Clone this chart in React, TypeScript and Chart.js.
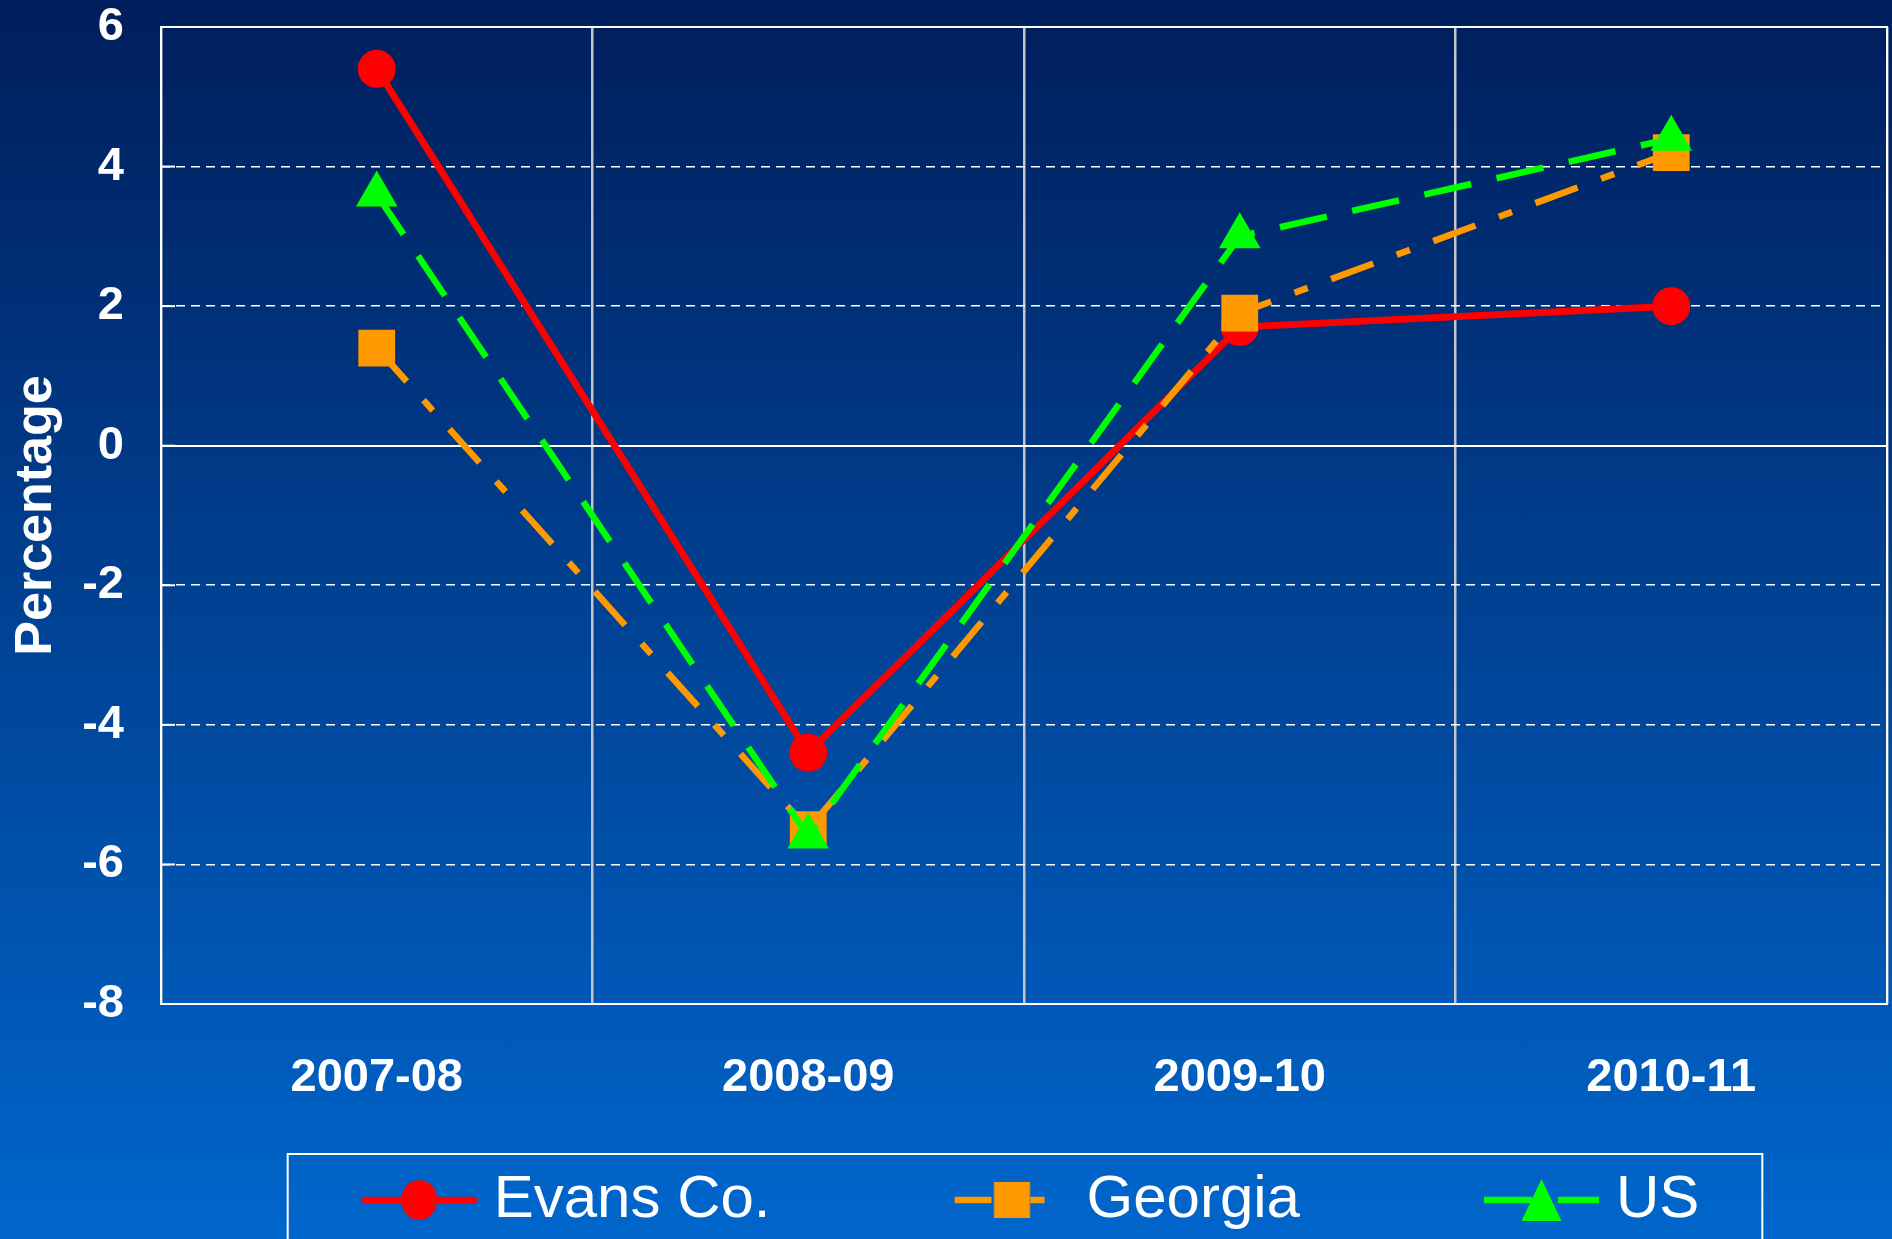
import React, { useEffect, useRef } from 'react';
import { Chart, registerables } from 'chart.js';

Chart.register(...registerables);

const categories = ['2007-08', '2008-09', '2009-10', '2010-11'];
const evansValues = [5.4, -4.4, 1.7, 2.0];
const georgiaValues = [1.4, -5.5, 1.9, 4.2];
const usValues = [3.6, -5.6, 3.0, 4.4];
const seriesNames = ['Evans Co.', 'Georgia', 'US'];
const seriesColors = ['#ff0000', '#ff9900', '#00ff00'];
const yMin = -8;
const yMax = 6;
const yStep = 2;

const PAGE_W = 1892;
const PAGE_H = 1239;
const CANVAS_H = 1240;

const LEGEND_FONT = 60;
const LEGEND_PAD = 10;
const LEGEND_SAMPLE = 115;
const LEGEND_BOX_W = 276;
const LEGEND_IMG_W = LEGEND_BOX_W + 26;

function makeSample(kind: 'circle' | 'rect' | 'triangle', color: string, dash: number[]) {
  const c = document.createElement('canvas');
  c.width = LEGEND_IMG_W;
  c.height = 50;
  const g = c.getContext('2d')!;
  const x0 = LEGEND_IMG_W - LEGEND_SAMPLE;
  const x1 = LEGEND_IMG_W;
  const cy = 25;
  g.strokeStyle = color;
  g.lineWidth = 6.5;
  g.setLineDash(dash);
  g.lineCap = dash.length ? 'butt' : 'round';
  g.beginPath();
  g.moveTo(x0 + (dash.length ? 0 : 3), cy);
  g.lineTo(x1 - (dash.length ? 0 : 3), cy);
  g.stroke();
  g.setLineDash([]);
  const mx = x0 + LEGEND_SAMPLE / 2;
  g.fillStyle = color;
  g.beginPath();
  if (kind === 'circle') {
    g.ellipse(mx, cy, 18, 20, 0, 0, Math.PI * 2);
  } else if (kind === 'rect') {
    g.rect(mx - 18, cy - 18, 36, 36);
  } else {
    g.moveTo(mx, cy - 21);
    g.lineTo(mx + 20, cy + 21);
    g.lineTo(mx - 20, cy + 21);
    g.closePath();
  }
  g.fill();
  return c;
}

const frame = {
  id: 'frame',
  beforeDatasetsDraw(chart: any) {
    const { ctx, chartArea } = chart;
    const y = chart.scales.y;
    ctx.save();
    ctx.strokeStyle = '#ffffff';
    ctx.lineWidth = 2;
    ctx.strokeRect(chartArea.left, chartArea.top, chartArea.right - chartArea.left, chartArea.bottom - chartArea.top);
    y.ticks.forEach((t: any) => {
      const py = y.getPixelForValue(t.value);
      ctx.beginPath();
      ctx.moveTo(chartArea.left, py);
      ctx.lineTo(chartArea.left + 14, py);
      ctx.stroke();
    });
    ctx.restore();
  },
  afterDraw(chart: any) {
    const lg = chart.legend;
    if (!lg || !lg.legendHitBoxes || !lg.legendHitBoxes.length) return;
    const hb = lg.legendHitBoxes;
    const first = hb[0];
    const last = hb[hb.length - 1];
    const sampleStart = first.left + (LEGEND_BOX_W - 102);
    const left = sampleStart - 74;
    const right = last.left + last.width + 63;
    const top = lg.top + LEGEND_PAD + LEGEND_FONT / 2 - 46;
    const { ctx } = chart;
    ctx.save();
    ctx.strokeStyle = '#ffffff';
    ctx.lineWidth = 2;
    ctx.strokeRect(left, top, right - left, chart.height + 40 - top);
    ctx.restore();
  },
};

export default function App() {
  const ref = useRef<HTMLCanvasElement | null>(null);

  useEffect(() => {
    document.body.style.margin = '0';
    const canvas = ref.current;
    if (!canvas) return;
    const samples = [
      makeSample('circle', seriesColors[0], []),
      makeSample('rect', seriesColors[1], [37, 39, 14, 100]),
      makeSample('triangle', seriesColors[2], [48, 26]),
    ];
    const chart = new Chart(canvas, {
      type: 'line',
      data: {
        labels: categories,
        datasets: [
          {
            label: seriesNames[0],
            data: evansValues,
            borderColor: seriesColors[0],
            backgroundColor: seriesColors[0],
            borderWidth: 7,
            pointStyle: 'circle',
            pointRadius: 19,
            pointBorderWidth: 0,
            tension: 0,
            order: 3,
          },
          {
            label: seriesNames[1],
            data: georgiaValues,
            borderColor: seriesColors[1],
            backgroundColor: seriesColors[1],
            borderWidth: 6.5,
            borderDash: [45, 25, 14, 25],
            pointStyle: 'rect',
            pointRadius: 26,
            pointBorderWidth: 0,
            tension: 0,
            order: 2,
          },
          {
            label: seriesNames[2],
            data: usValues,
            borderColor: seriesColors[2],
            backgroundColor: seriesColors[2],
            borderWidth: 6.5,
            borderDash: [48, 26],
            pointStyle: 'triangle',
            pointRadius: 24,
            pointBorderWidth: 0,
            tension: 0,
            order: 1,
          },
        ],
      },
      options: {
        animation: false,
        responsive: false,
        devicePixelRatio: 1,
        layout: { autoPadding: false, padding: { top: 0, right: 5, left: 0, bottom: 0 } },
        plugins: {
          tooltip: { enabled: false },
          legend: {
            position: 'bottom',
            labels: {
              usePointStyle: true,
              pointStyleWidth: LEGEND_BOX_W,
              padding: LEGEND_PAD,
              color: '#ffffff',
              font: { family: "'Liberation Sans Narrow', 'Liberation Sans', Arial, sans-serif", size: LEGEND_FONT },
              generateLabels: (ch: any) =>
                ch.data.datasets.map((ds: any, i: number) => ({
                  text: ds.label,
                  pointStyle: samples[i],
                  fillStyle: 'rgba(0,0,0,0)',
                  strokeStyle: 'rgba(0,0,0,0)',
                  lineWidth: 0,
                  hidden: false,
                  datasetIndex: i,
                  fontColor: '#ffffff',
                })),
            },
          },
        },
        scales: {
          x: {
            offset: true,
            afterFit: (s: any) => {
              s.height = 156;
              s.paddingLeft = 0;
              s.paddingRight = 0;
            },
            grid: { color: '#c4c6cc', lineWidth: 2.5, drawTicks: false, offset: true },
            border: { display: false },
            ticks: {
              color: '#ffffff',
              padding: 46,
              font: { family: "'Liberation Sans', Arial, sans-serif", weight: 'bold', size: 47 },
            },
          },
          y: {
            min: yMin,
            max: yMax,
            afterFit: (s: any) => {
              s.width = 161;
              s.paddingTop = 27;
              s.paddingBottom = 0;
            },
            grid: {
              color: '#ffffff',
              lineWidth: (c: any) => (c.tick && c.tick.value === 0 ? 2 : 1.6),
              drawTicks: false,
            },
            border: {
              display: false,
              dash: (c: any) => (c.tick && c.tick.value !== 0 ? [9, 6] : []),
            },
            ticks: {
              stepSize: yStep,
              color: '#ffffff',
              padding: 37,
              font: { family: "'Liberation Sans', Arial, sans-serif", weight: 'bold', size: 47 },
            },
            title: {
              display: true,
              text: 'Percentage',
              color: '#ffffff',
              padding: { top: 5, bottom: 0 },
              font: { family: "'Liberation Sans', Arial, sans-serif", weight: 'bold', size: 52 },
            },
          },
        },
      },
      plugins: [frame],
    } as any);
    return () => chart.destroy();
  }, []);

  return (
    <div
      style={{
        width: PAGE_W,
        height: PAGE_H,
        overflow: 'hidden',
        position: 'relative',
        background: 'linear-gradient(180deg, #001e5c 0%, #0066cc 100%)',
      }}
    >
      <canvas ref={ref} width={PAGE_W} height={CANVAS_H} style={{ display: 'block', width: PAGE_W, height: CANVAS_H }} />
    </div>
  );
}
